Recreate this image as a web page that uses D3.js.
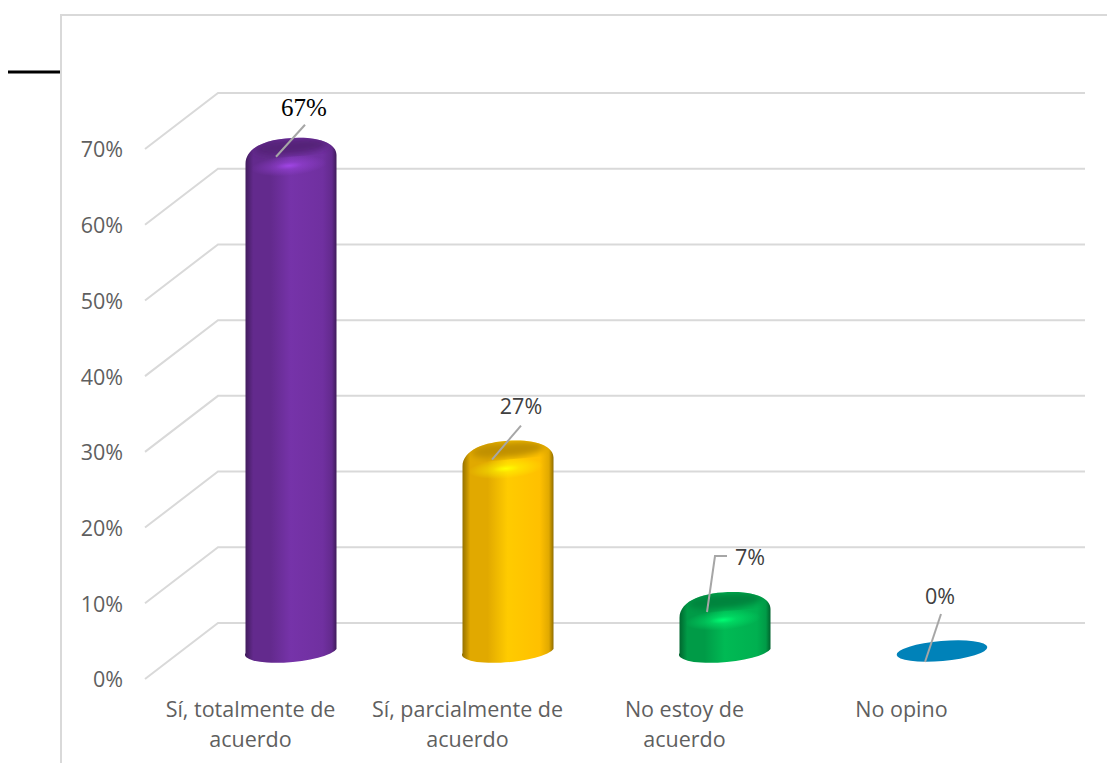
<!DOCTYPE html>
<html>
<head>
<meta charset="utf-8">
<script src="https://cdn.jsdelivr.net/npm/d3@7"></script>
<style>
  html, body { margin: 0; padding: 0; background: #fff; overflow: hidden; }
  svg { display: block; }
  .tick text { font-family: "Open Sans", sans-serif; font-size: 21.5px; fill: #5f5f5f; }
</style>
</head>
<body>
<svg id="chart"></svg>
<script>
// values
var categories = ['Sí, totalmente de\nacuerdo', 'Sí, parcialmente de\nacuerdo', 'No estoy de\nacuerdo', 'No opino'];
var values = [0.67, 0.27, 0.07, 0];
var valueLabels = ['67%', '27%', '7%', '0%'];
var yTicks = [0, 0.1, 0.2, 0.3, 0.4, 0.5, 0.6, 0.7];
var colors = ['#7030A0', '#FFC000', '#00B050', '#0082B9'];

var width = 1107, height = 763;
var depthX = 73, depthY = -56;   // floor offset front -> back wall
var rx = 45.5, ry = 11, tilt = -5;

var svg = d3.select('#chart').attr('width', width).attr('height', height);
var defs = svg.append('defs');

var y = d3.scaleLinear().domain([0, 0.7]).range([679, 149]);
var x = d3.scaleBand().domain(categories).range([145, 1013]);
// bars stand in the middle of the floor, not on the front edge
var barX = function(c) { return x(c) + x.bandwidth() / 2 + 37.5; };
var barY = function(v) { return y(v) - 28; };

// chart frame, cropped by the page at right and bottom
svg.append('path')
   .attr('d', 'M61,' + height + 'V15H' + width)
   .attr('fill', 'none').attr('stroke', '#d9d9d9').attr('stroke-width', 2);
svg.append('line')
   .attr('x1', 8).attr('x2', 60).attr('y1', 72).attr('y2', 72)
   .attr('stroke', '#000').attr('stroke-width', 3);

// side wall + back wall gridlines
svg.append('g').selectAll('path')
   .data(yTicks)
   .enter().append('path')
   .attr('d', function(d) {
       return 'M145,' + y(d) + 'l' + depthX + ',' + depthY + 'H1085';
   })
   .attr('fill', 'none').attr('stroke', '#d9d9d9').attr('stroke-width', 2);

// axes
var yAxis = svg.append('g')
   .attr('transform', 'translate(126,1)')
   .call(d3.axisLeft(y).tickValues(yTicks).tickFormat(d3.format('.0%')).tickSize(0));
yAxis.select('.domain').remove();

var xAxis = svg.append('g')
   .attr('transform', 'translate(-3,690)')
   .call(d3.axisBottom(x).tickSize(0));
xAxis.select('.domain').remove();
xAxis.selectAll('.tick text').each(function(d) {
    var t = d3.select(this).text(null).attr('y', 0).attr('dy', null);
    d.split('\n').forEach(function(line, i) {
        t.append('tspan').attr('x', 0).attr('y', 27 + i * 30).text(line);
    });
});

// gradients for the cylinders
colors.forEach(function(c, i) {
    var dark = d3.color(c).darker(1.6).formatHex();
    var mid = d3.color(c).darker(0.35).formatHex();
    var bright = d3.color(c).brighter(0.15).formatHex();
    var light = d3.color(c).brighter(1).formatHex();

    var side = defs.append('linearGradient').attr('id', 'side' + i);
    [[0, dark], [0.09, mid], [0.28, mid], [0.5, bright], [0.85, c], [0.95, mid], [1, dark]].forEach(function(s) {
        side.append('stop').attr('offset', s[0]).attr('stop-color', s[1]);
    });

    var glow = defs.append('radialGradient').attr('id', 'glow' + i);
    glow.append('stop').attr('offset', 0).attr('stop-color', light);
    glow.append('stop').attr('offset', 0.35).attr('stop-color', light).attr('stop-opacity', 0.45);
    glow.append('stop').attr('offset', 1).attr('stop-color', light).attr('stop-opacity', 0);
});
var blur = defs.append('filter').attr('id', 'soft');
blur.append('feGaussianBlur').attr('stdDeviation', 3);

function outline(cx, yt, yb) {
    return 'M' + (cx - rx) + ',' + (yb + 2) +
           'A' + rx + ',' + ry + ',' + tilt + ',0,0,' + (cx + rx) + ',' + (yb - 2) +
           'L' + (cx + rx) + ',' + (yt + 11) +
           'C' + (cx + rx) + ',' + (yt + 1) + ',' + (cx + 32) + ',' + (yt - 6) + ',' + (cx + 8) + ',' + (yt - 6) +
           'C' + (cx - 20) + ',' + (yt - 6) + ',' + (cx - rx) + ',' + (yt + 2) + ',' + (cx - rx) + ',' + (yt + 20) + 'Z';
}

var bars = svg.append('g').selectAll('g')
   .data(categories)
   .enter().append('g');

bars.each(function(c, i) {
    var g = d3.select(this);
    var cx = barX(c), yt = barY(values[i]), yb = barY(0);

    // a zero value is only the flat base disc
    if (values[i] === 0) {
        g.append('ellipse')
         .attr('rx', rx).attr('ry', ry - 1)
         .attr('transform', 'translate(' + cx + ',' + yb + ') rotate(' + tilt + ')')
         .attr('fill', colors[i]);
        return;
    }

    defs.append('clipPath').attr('id', 'clip' + i)
        .append('path').attr('d', outline(cx, yt, yb));

    g.append('path').attr('d', outline(cx, yt, yb)).attr('fill', 'url(#side' + i + ')');

    var inner = g.append('g').attr('clip-path', 'url(#clip' + i + ')');
    // darker top cap
    inner.append('ellipse')
         .attr('rx', rx - 8).attr('ry', ry - 3)
         .attr('transform', 'translate(' + cx + ',' + (yt + 3) + ') rotate(' + tilt + ')')
         .attr('fill', d3.color(colors[i]).darker(0.8).formatHex())
         .attr('filter', 'url(#soft)');
    // highlight on the bevel
    inner.append('ellipse')
         .attr('rx', 38).attr('ry', 10)
         .attr('transform', 'translate(' + (cx - 2) + ',' + (yt + 22) + ') rotate(' + tilt + ')')
         .attr('fill', 'url(#glow' + i + ')');
});

// data labels with their leader lines, placed by hand like in the original
var labelDx = [13, 13, 25, -2];
var labelDy = [-36, -40, -41, -55];
var leaders = [
    [[14, -19], [-15, 13]],
    [[13, -21], [-16, 13]],
    [[2, -42], [-10, -42], [-18, 14]],
    [[-1, -37], [-17, 11]]
];
var line = d3.line();

svg.append('g').selectAll('path')
   .data(categories)
   .enter().append('path')
   .attr('d', function(c, i) {
       return line(leaders[i].map(function(p) { return [barX(c) + p[0], barY(values[i]) + p[1]]; }));
   })
   .attr('fill', 'none').attr('stroke', '#a6a6a6').attr('stroke-width', 2);

svg.append('g').selectAll('text')
   .data(categories)
   .enter().append('text')
   .attr('x', function(c, i) { return barX(c) + labelDx[i]; })
   .attr('y', function(c, i) { return barY(values[i]) + labelDy[i]; })
   .attr('dy', '0.35em')
   .attr('text-anchor', 'middle')
   .attr('font-family', function(c, i) { return i === 0 ? '"Liberation Serif", serif' : '"Open Sans", sans-serif'; })
   .attr('font-size', function(c, i) { return i === 0 ? 25 : 21.5; })
   .attr('fill', function(c, i) { return i === 0 ? '#000' : '#404040'; })
   .text(function(c, i) { return valueLabels[i]; });
</script>
</body>
</html>
